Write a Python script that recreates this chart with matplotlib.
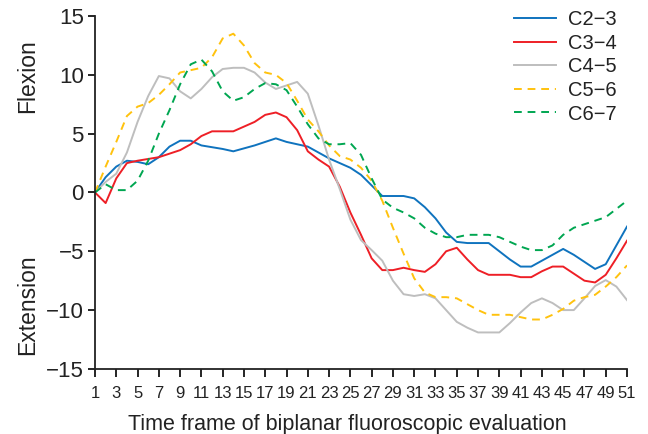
import matplotlib
matplotlib.use("Agg")
import matplotlib.pyplot as plt
import numpy as np

plt.rcParams['font.family'] = ['Liberation Sans', 'DejaVu Sans']

frames = list(range(1, 52))

c23 = [0, 1.3, 2.2, 2.7, 2.6, 2.4, 3.0, 3.9, 4.4, 4.4,
       4.0, 3.85, 3.7, 3.5, 3.75, 4.0, 4.3, 4.6, 4.3, 4.1,
       3.9, 3.4, 2.9, 2.5, 2.1, 1.5, 0.6, -0.3, -0.3, -0.3,
       -0.5, -1.25, -2.2, -3.4, -4.2, -4.3, -4.3, -4.3, -5.0, -5.7,
       -6.3, -6.3, -5.8, -5.3, -4.8, -5.3, -5.9, -6.5, -6.1, -4.5,
       -2.9]
c34 = [0, -0.9, 1.2, 2.5, 2.7, 2.85, 3.0, 3.3, 3.6, 4.1,
       4.8, 5.2, 5.2, 5.2, 5.6, 6.0, 6.6, 6.8, 6.4, 5.3,
       3.5, 2.8, 2.2, 0.5, -1.7, -3.6, -5.6, -6.6, -6.6, -6.4,
       -6.6, -6.75, -6.1, -5.0, -4.7, -5.7, -6.6, -7.0, -7.0, -7.0,
       -7.2, -7.2, -6.7, -6.3, -6.3, -6.9, -7.5, -7.65, -7.0, -5.6,
       -4.1]
c45 = [0, 0.9, 1.6, 3.4, 6.0, 8.2, 9.9, 9.7, 8.6, 8.0,
       8.8, 9.8, 10.5, 10.6, 10.6, 10.2, 9.35, 8.8, 9.1, 9.4,
       8.4, 5.7, 2.8, 0.3, -2.3, -4.05, -4.9, -5.8, -7.5, -8.65,
       -8.8, -8.65, -9.0, -10.0, -11.0, -11.5, -11.9, -11.9, -11.9, -11.1,
       -10.2, -9.4, -9.0, -9.4, -10.0, -10.0, -9.0, -7.95, -7.45, -8.0,
       -9.15]
c56 = [0, 2.2, 4.3, 6.5, 7.3, 7.6, 8.3, 9.2, 10.2, 10.4,
       10.6, 11.5, 13.1, 13.5, 12.5, 11.0, 10.2, 10.0, 9.3, 7.8,
       6.2, 5.2, 4.0, 3.1, 2.8, 2.1, 1.0, -0.7, -3.0, -5.2,
       -7.3, -8.5, -8.9, -8.9, -9.0, -9.5, -10.0, -10.4, -10.4, -10.4,
       -10.6, -10.8, -10.8, -10.4, -9.9, -9.2, -8.9, -8.7, -8.0, -7.2,
       -6.2]
c67 = [0, 0.7, 0.2, 0.2, 1.0, 2.7, 5.0, 7.0, 9.2, 10.9,
       11.3, 10.3, 8.6, 7.8, 8.1, 8.8, 9.3, 9.2, 8.7, 7.3,
       5.8, 4.6, 4.1, 4.1, 4.2, 3.2, 1.2, -0.6, -1.3, -1.7,
       -2.2, -3.0, -3.5, -3.8, -3.8, -3.6, -3.6, -3.6, -3.8, -4.2,
       -4.6, -4.9, -4.9, -4.5, -3.6, -3.0, -2.7, -2.4, -2.1, -1.4,
       -0.7]

labels = ["C2\u22123", "C3\u22124", "C4\u22125", "C5\u22126", "C6\u22127"]
series = [c23, c34, c45, c56, c67]
colors = ["#0F73BE", "#EE1F26", "#BEBEBE", "#FFC20E", "#00A651"]
styles = ["-", "-", "-", "--", "--"]

xticks = list(range(1, 52, 2))
yticks = [-15, -10, -5, 0, 5, 10, 15]

fig = plt.figure(figsize=(6.48, 4.34), dpi=100)
ax = fig.add_axes([0.1466, 0.150, 0.821, 0.813])

for y, lab, col, ls in zip(series, labels, colors, styles):
    ax.plot(frames, y, color=col, linestyle=ls, linewidth=1.4, label=lab,
            dashes=(4, 3) if ls == "--" else (None, None))

ax.set_xlim(1, 51)
ax.set_ylim(-15, 15)
ax.set_xticks(xticks)
ax.set_xticklabels([str(t) for t in xticks], fontsize=12, color="#222222")
ax.set_yticks(yticks)
ax.set_yticklabels([str(t).replace("-", "\u2212") for t in yticks], fontsize=16, color="#222222")
ax.tick_params(axis="x", length=6, width=1.2, pad=6)
ax.tick_params(axis="y", length=5, width=1.2, pad=3)
for s in ["top", "right"]:
    ax.spines[s].set_visible(False)
for s in ["left", "bottom"]:
    ax.spines[s].set_linewidth(1.3)
    ax.spines[s].set_color("#222222")

ax.set_xlabel("Time frame of biplanar fluoroscopic evaluation", fontsize=15.5,
              color="#222222", labelpad=10)
ax.xaxis.set_label_coords(0.474, -0.1, transform=None) if False else None
ax.xaxis.label.set_x(0.474)

fig.text(0.043, 0.825, "Flexion", rotation=90, ha="center", va="center",
         fontsize=16.5, color="#222222")
fig.text(0.043, 0.297, "Extension", rotation=90, ha="center", va="center",
         fontsize=16.5, color="#222222")

leg = ax.legend(loc="upper left", bbox_to_anchor=(0.772, 1.04), frameon=False,
                fontsize=14.5, handlelength=2.1, handletextpad=0.6,
                labelspacing=0.23, borderaxespad=0)
for t in leg.get_texts():
    t.set_color("#222222")

fig.savefig("out.png", dpi=100)
